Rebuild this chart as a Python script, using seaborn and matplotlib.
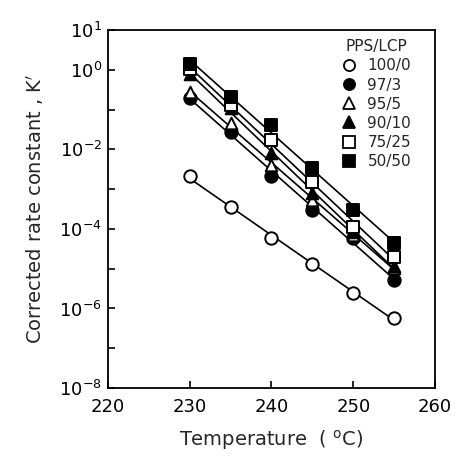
import numpy as np
import pandas as pd
import matplotlib
matplotlib.use("Agg")
import matplotlib.pyplot as plt
import seaborn as sns
from matplotlib.lines import Line2D

# Temperatures (°C) and corrected rate constants K' for each PPS/LCP blend
temperature = [230, 235, 240, 245, 250, 255]
blends = ["100/0", "97/3", "95/5", "90/10", "75/25", "50/50"]
k_100_0 = [2.1e-3, 3.6e-4, 6.0e-5, 1.3e-5, 2.45e-6, 5.8e-7]
k_97_3 = [2.0e-1, 2.75e-2, 2.2e-3, 3.0e-4, 5.9e-5, 5.2e-6]
k_95_5 = [2.75e-1, 4.6e-2, 4.1e-3, 5.4e-4, 7.1e-5, 1.05e-5]
k_90_10 = [7.8e-1, 1.1e-1, 8.1e-3, 7.9e-4, 8.3e-5, 1.2e-5]
k_75_25 = [1.05e0, 1.3e-1, 1.7e-2, 1.5e-3, 1.1e-4, 1.95e-5]
k_50_50 = [1.41e0, 2.09e-1, 4.07e-2, 3.4e-3, 3.0e-4, 4.5e-5]

series = dict(zip(blends, [k_100_0, k_97_3, k_95_5, k_90_10, k_75_25, k_50_50]))

# marker shape and fill for each blend
markers = {"100/0": ("o", False), "97/3": ("o", True), "95/5": ("^", False),
           "90/10": ("^", True), "75/25": ("s", False), "50/50": ("s", True)}

sns.set_theme(style="ticks")
plt.rcParams["font.family"] = ["DejaVu Sans"]
plt.rcParams["mathtext.fontset"] = "dejavusans"

fig = plt.figure(figsize=(4.57, 4.57), dpi=100)
ax = fig.add_axes([0.236, 0.151, 0.716, 0.783])
ax.set_yscale("log")

rows = []
for name in blends:
    for t, k in zip(temperature, series[name]):
        rows.append({"T": t, "K": k, "blend": name})
df = pd.DataFrame(rows)

handles = []
for name in blends:
    sub = df[df["blend"] == name]
    # least-squares line of log10(K') against temperature
    slope, icpt = np.polyfit(sub["T"], np.log10(sub["K"]), 1)
    fit = pd.DataFrame({"T": sub["T"], "K": 10 ** (slope * sub["T"] + icpt)})
    sns.lineplot(data=fit, x="T", y="K", ax=ax, color="black", lw=1.2, zorder=2)
    m, filled = markers[name]
    size = 80 if m == "o" else (75 if m == "s" else 70)
    sns.scatterplot(data=sub, x="T", y="K", ax=ax, marker=m, s=size,
                    facecolor="black" if filled else "white",
                    edgecolor="black", linewidth=1.4, zorder=3)
    handles.append(Line2D([], [], ls="none", marker=m, markersize=8,
                          markerfacecolor="black" if filled else "white",
                          markeredgecolor="black", markeredgewidth=1.3))

ax.set_xlim(220, 260)
ax.set_ylim(1e-8, 1e1)
ax.set_xticks([220, 230, 240, 250, 260])
ax.set_xticklabels(["220", "230", "240", "250", "260"])
yt = [10.0 ** p for p in range(-8, 2)]
ax.set_yticks(yt)
ax.set_yticklabels([r"$10^{%d}$" % p if (p % 2 == 0 or p == 1) else ""
                    for p in range(-8, 2)])
ax.yaxis.set_minor_locator(matplotlib.ticker.NullLocator())
ax.tick_params(axis="both", direction="in", length=5, width=1.2,
               labelsize=13, colors="black", pad=4)
ax.tick_params(axis="x", pad=7)
for sp in ax.spines.values():
    sp.set_linewidth(1.3)
    sp.set_color("black")

ax.set_xlabel(r"Temperature  ( $^{\rm o}$C)", fontsize=14, labelpad=9)
ax.set_ylabel("Corrected rate constant , K$'$", fontsize=14, labelpad=10)

leg = ax.legend(handles, blends, title="PPS/LCP", loc="upper right",
                bbox_to_anchor=(0.955, 1.0), frameon=False, fontsize=11,
                title_fontsize=11, handletextpad=0.7, labelspacing=0.27,
                handlelength=1.0, borderaxespad=0.2)

fig.savefig("out.png", dpi=100)
